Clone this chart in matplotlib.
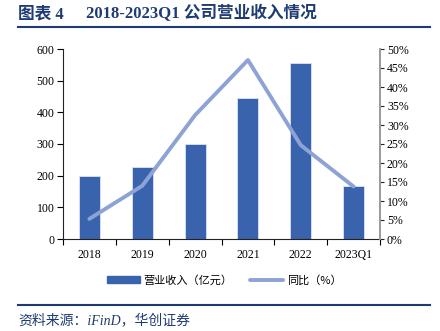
import matplotlib
matplotlib.use("Agg")
import matplotlib.pyplot as plt
from matplotlib.lines import Line2D
from matplotlib.patches import Patch
import numpy as np

categories = ["2018", "2019", "2020", "2021", "2022", "2023Q1"]
revenue = [200, 228, 301, 445, 555, 167]
yoy = [5.3, 14.0, 32.6, 47.1, 24.7, 13.8]
left_ticks = [0, 100, 200, 300, 400, 500, 600]
right_ticks = [0, 5, 10, 15, 20, 25, 30, 35, 40, 45, 50]

bar_color = "#3A63AD"
line_color = "#8DA3D6"
navy = "#1F3B73"
serif = ["Liberation Serif", "Noto Sans CJK SC"]

plt.rcParams["font.family"] = serif

fig = plt.figure(figsize=(4.4, 3.31), dpi=100)
W, H = 440, 331
ax = fig.add_axes([63 / W, 1 - 239 / H, (380 - 63) / W, (239 - 49) / H])

x = np.arange(len(categories))
ax.bar(x, revenue, width=0.4, color=bar_color, edgecolor="#DCE4F2", linewidth=0.6, zorder=2)
ax.set_xlim(-0.5, len(categories) - 0.5)
ax.set_ylim(0, 600)
ax.set_yticks(left_ticks)
ax.set_yticklabels([str(v) for v in left_ticks], fontsize=8.5)
ax.set_xticks(np.arange(-0.5, len(categories), 1.0))
ax.set_xticklabels([])
ax.set_xticks(x, minor=True)
ax.set_xticklabels(categories, minor=True, fontsize=8.5)
ax.tick_params(axis="x", which="minor", length=0, pad=7)
ax.tick_params(axis="x", which="major", length=4, direction="out", width=0.8)
ax.tick_params(axis="y", length=4, direction="out", width=0.8, pad=2)
ax.spines["top"].set_visible(False)
ax.spines["right"].set_visible(False)
ax.spines["left"].set_color("#222222")
ax.spines["bottom"].set_color("#222222")

ax2 = ax.twinx()
ax2.plot(x, yoy, color=line_color, linewidth=2.8, solid_capstyle="round", zorder=3)
ax2.set_ylim(0, 50)
ax2.set_yticks(right_ticks)
ax2.set_yticklabels([f"{v}%" for v in right_ticks], fontsize=8.5)
ax2.tick_params(axis="y", length=3, direction="out", width=0.8, pad=2, color="#222222")
ax2.spines["top"].set_visible(False)
ax2.spines["left"].set_visible(False)
ax2.spines["bottom"].set_visible(False)
ax2.spines["right"].set_color("#9A9A9A")
ax2.spines["right"].set_linewidth(1.4)

handles = [Patch(facecolor=bar_color, edgecolor=bar_color),
           Line2D([0], [0], color=line_color, linewidth=2.8, solid_capstyle="round")]
labels = ["营业收入（亿元）", "同比（%）"]
fig.legend(handles, labels, loc="center", bbox_to_anchor=(224 / W, 1 - 280 / H), ncol=2,
           frameon=False, handlelength=3.0, handleheight=0.5,
           columnspacing=1.6, handletextpad=0.3,
           prop={"family": ["Noto Sans CJK SC"], "size": 8})

fig.text(18 / W, 1 - 14 / H, "图表 4", fontsize=12,
         fontweight="bold", color=navy, va="center", ha="left", family=serif)
fig.text(86 / W, 1 - 14 / H, "2018-2023Q1 公司营业收入情况", fontsize=12,
         fontweight="bold", color=navy, va="center", ha="left", family=serif)
fig.add_artist(Line2D([18 / W, 430 / W], [1 - 27 / H, 1 - 27 / H], color=navy, linewidth=1.5))
fig.add_artist(Line2D([18 / W, 430 / W], [1 - 305 / H, 1 - 305 / H], color=navy, linewidth=1.5))
fig.text(18 / W, 1 - 320 / H, "资料来源：iFinD，华创证券", fontsize=10, style="italic",
         color=navy, va="center", ha="left", family=serif)

fig.savefig("out.png", dpi=100)
